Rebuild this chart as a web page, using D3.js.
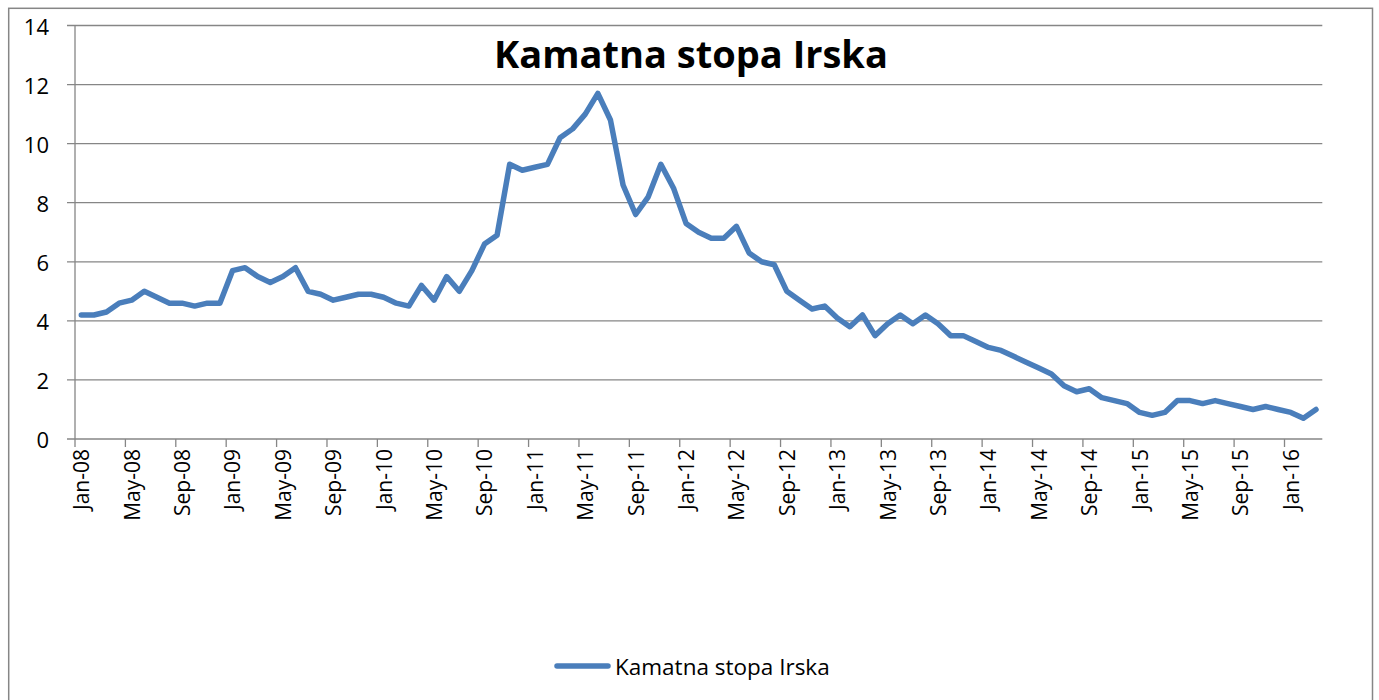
<!DOCTYPE html>
<html>
<head>
<meta charset="utf-8">
<script src="https://cdn.jsdelivr.net/npm/d3@7"></script>
<style>
  html, body { margin: 0; padding: 0; background: #fff; }
  svg { display: block; }
</style>
</head>
<body>
<svg id="chart" width="1379" height="700"></svg>
<script>
// ---- data ----
const monthNames = ["Jan","Feb","Mar","Apr","May","Jun","Jul","Aug","Sep","Oct","Nov","Dec"];
const years = ["08","09","10","11","12","13","14","15","16"];
const seriesName = "Kamatna stopa Irska";
const values = [
  4.2, 4.2, 4.3, 4.6, 4.7, 5.0, 4.8, 4.6, 4.6, 4.5, 4.6, 4.6,   // 2008
  5.7, 5.8, 5.5, 5.3, 5.5, 5.8, 5.0, 4.9, 4.7, 4.8, 4.9, 4.9,   // 2009
  4.8, 4.6, 4.5, 5.2, 4.7, 5.5, 5.0, 5.7, 6.6, 6.9, 9.3, 9.1,   // 2010
  9.2, 9.3, 10.2, 10.5, 11.0, 11.7, 10.8, 8.6, 7.6, 8.2, 9.3, 8.5, // 2011
  7.3, 7.0, 6.8, 6.8, 7.2, 6.3, 6.0, 5.9, 5.0, 4.7, 4.4, 4.5,   // 2012
  4.1, 3.8, 4.2, 3.5, 3.9, 4.2, 3.9, 4.2, 3.9, 3.5, 3.5, 3.3,   // 2013
  3.1, 3.0, 2.8, 2.6, 2.4, 2.2, 1.8, 1.6, 1.7, 1.4, 1.3, 1.2,   // 2014
  0.9, 0.8, 0.9, 1.3, 1.3, 1.2, 1.3, 1.2, 1.1, 1.0, 1.1, 1.0,   // 2015
  0.9, 0.7, 1.0                                                 // 2016
];
const yTicks = [0, 2, 4, 6, 8, 10, 12, 14];

// categories (Jan-08 ... Mar-16)
const categories = [];
years.forEach(yy => monthNames.forEach(m => categories.push(m + "-" + yy)));
categories.length = values.length;
const data = categories.map((c, i) => ({ cat: c, v: values[i] }));

// ---- layout ----
const svg = d3.select("#chart");
const plotLeft = 75, plotRight = 1322.3, plotTop = 25.5, plotBottom = 439;
const gridColor = "#868686";
const lineColor = "#4a7ebb";
const font = "'Open Sans', 'Noto Sans', sans-serif";

// chart border
svg.append("rect")
  .attr("x", 8.7).attr("y", 8.3)
  .attr("width", 1372.5 - 8.7).attr("height", 720)
  .attr("fill", "none").attr("stroke", gridColor).attr("stroke-width", 1.5);

const x = d3.scaleBand().domain(categories).range([plotLeft, plotRight]).padding(0);
const y = d3.scaleLinear().domain([0, 14]).range([plotBottom, plotTop]);

// gridlines + y tick marks
svg.append("g").selectAll("line").data(yTicks).join("line")
  .attr("x1", plotLeft - 8).attr("x2", plotRight)
  .attr("y1", d => y(d)).attr("y2", d => y(d))
  .attr("stroke", gridColor).attr("stroke-width", 1.3);

// y axis line
svg.append("line")
  .attr("x1", plotLeft).attr("x2", plotLeft).attr("y1", plotTop).attr("y2", plotBottom)
  .attr("stroke", gridColor).attr("stroke-width", 1.3);

// y labels
svg.append("g").selectAll("text").data(yTicks).join("text")
  .attr("x", 49).attr("y", d => y(d))
  .attr("text-anchor", "end").attr("dominant-baseline", "central")
  .attr("font-family", font).attr("font-size", 22).attr("fill", "#000")
  .text(d => d);

// x ticks every 4 categories
const tickCats = categories.filter((c, i) => i % 4 === 0);
svg.append("g").selectAll("line").data(tickCats).join("line")
  .attr("x1", d => x(d)).attr("x2", d => x(d))
  .attr("y1", plotBottom).attr("y2", plotBottom + 8)
  .attr("stroke", gridColor).attr("stroke-width", 1.3);

// x labels
svg.append("g").selectAll("text").data(tickCats).join("text")
  .attr("transform", d => `translate(${x(d) + x.bandwidth() / 2},449) rotate(-90)`)
  .attr("text-anchor", "end").attr("dominant-baseline", "central")
  .attr("font-family", font).attr("font-size", 21).attr("fill", "#000")
  .text(d => d);

// series line
const line = d3.line()
  .x(d => x(d.cat) + x.bandwidth() / 2)
  .y(d => y(d.v));
svg.append("path").datum(data)
  .attr("d", line)
  .attr("fill", "none").attr("stroke", lineColor)
  .attr("stroke-width", 5.5).attr("stroke-linejoin", "round").attr("stroke-linecap", "round");

// title
svg.append("text")
  .attr("x", 691).attr("y", 68)
  .attr("text-anchor", "middle")
  .attr("font-family", font).attr("font-weight", "bold").attr("font-size", 38)
  .attr("fill", "#000")
  .text(seriesName);

// legend
svg.append("line")
  .attr("x1", 557).attr("x2", 608).attr("y1", 666).attr("y2", 666)
  .attr("stroke", lineColor).attr("stroke-width", 5.5).attr("stroke-linecap", "round");
svg.append("text")
  .attr("x", 615).attr("y", 675)
  .attr("font-family", font).attr("font-size", 22.5).attr("fill", "#000")
  .text(seriesName);
</script>
</body>
</html>
